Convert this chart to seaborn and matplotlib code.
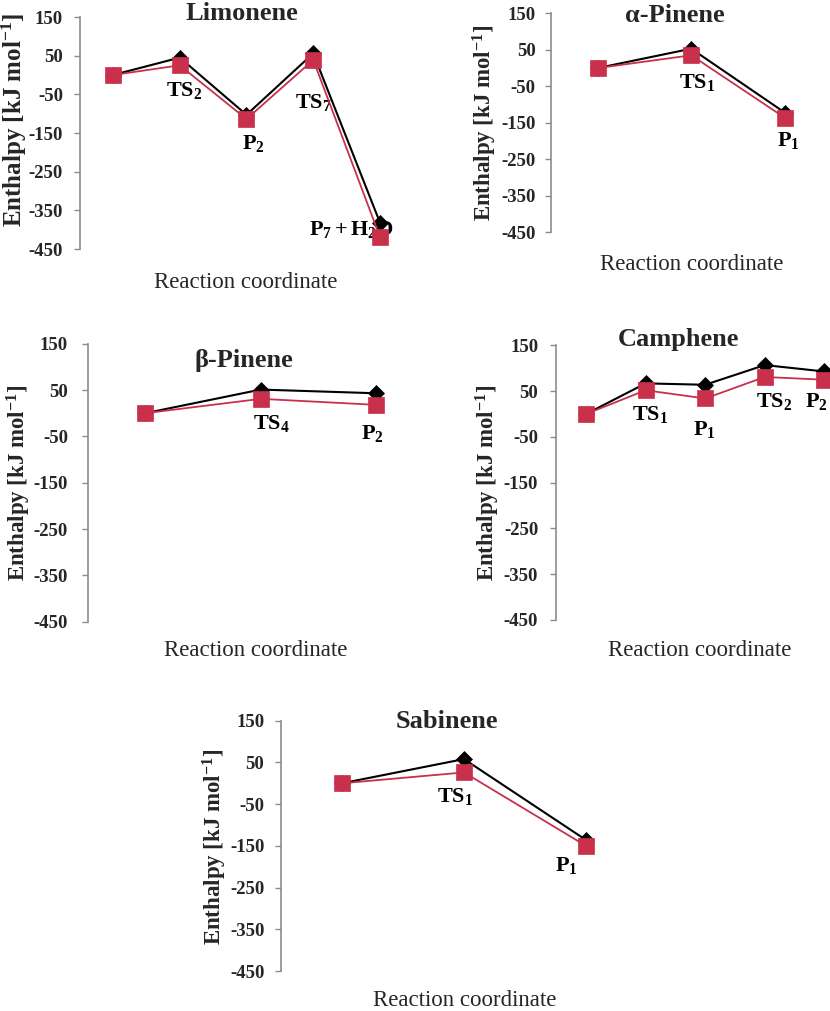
import numpy as np
import pandas as pd
import matplotlib
matplotlib.use("Agg")
import matplotlib.pyplot as plt
import seaborn as sns

# enthalpy profiles (kJ/mol), black = diamonds, red = squares
limonene_steps = ["R", "TS2", "P2", "TS7", "P7 + H2O"]
limonene_black = [0, 45, -103, 56, -382]
limonene_red = [0, 25, -114, 39, -419]

apinene_steps = ["R", "TS1", "P1"]
apinene_black = [0, 53, -122]
apinene_red = [0, 35, -136]

bpinene_steps = ["R", "TS4", "P2"]
bpinene_black = [0, 51, 43]
bpinene_red = [0, 31, 18]

camphene_steps = ["R", "TS1", "P1", "TS2", "P2"]
camphene_black = [0, 67, 64, 107, 93]
camphene_red = [0, 52, 34, 81, 75]

sabinene_steps = ["R", "TS1", "P1"]
sabinene_black = [0, 58, -136]
sabinene_red = [0, 26, -150]

yticks = [150, 50, -50, -150, -250, -350, -450]

sns.set_style("white")
plt.rcParams["font.family"] = ["Liberation Serif", "DejaVu Serif"]
plt.rcParams["mathtext.fontset"] = "custom"
plt.rcParams["mathtext.rm"] = "Liberation Serif"
plt.rcParams["mathtext.bf"] = "Liberation Serif:bold"
plt.rcParams["mathtext.it"] = "Liberation Serif:italic"
plt.rcParams["axes.unicode_minus"] = False

W, H = 830, 1011
RED = "#c8304b"
GREY = "#8c8c8c"
fig = plt.figure(figsize=(W / 100, H / 100), dpi=100)


def rect(left, top, right, bottom):
    return [left / W, 1 - bottom / H, (right - left) / W, (bottom - top) / H]


def ftext(x, y, s, **kw):
    fig.text(x / W, 1 - y / H, s, ha="center", va="center", **kw)


def pt_label(step):
    if step == "R":
        return ""
    if step == "P7 + H2O":
        return r"$\mathbf{P_7 + H_2O}$"
    return r"$\mathbf{%s_%s}$" % (step[:-1], step[-1])


panels = [
    dict(title="Limonene", steps=limonene_steps, black=limonene_black, red=limonene_red,
         box=(79.6, 17, 413.4, 249), pad=8, title_xy=(242, 14), xl_xy=(246, 282),
         yl_xy=(14, 120), yl_size=18,
         lab_xy=[None, (1.06, -39), (2.1, -176), (3.0, -70), (3.58, -400)]),
    dict(title="α-Pinene", steps=apinene_steps, black=apinene_black, red=apinene_red,
         box=(551, 13.3, 831.5, 232.3), pad=7, title_xy=(675, 15), xl_xy=(692, 265),
         yl_xy=(485, 123), yl_size=16.5,
         lab_xy=[None, (1.06, -39), (2.04, -198)]),
    dict(title="β-Pinene", steps=bpinene_steps, black=bpinene_black, red=bpinene_red,
         box=(87.5, 343.7, 434, 621.7), pad=10, title_xy=(244, 360), xl_xy=(256, 650),
         yl_xy=(19, 483), yl_size=16.5,
         lab_xy=[None, (1.09, -22), (1.97, -44)]),
    dict(title="Camphene", steps=camphene_steps, black=camphene_black, red=camphene_red,
         box=(556.2, 345.4, 854.2, 620), pad=9, title_xy=(678, 340), xl_xy=(700, 650),
         yl_xy=(488, 483), yl_size=16.5,
         lab_xy=[None, (1.08, -2), (1.99, -33), (3.15, 27), (3.86, 28)]),
    dict(title="Sabinene", steps=sabinene_steps, black=sabinene_black, red=sabinene_red,
         box=(281, 720.7, 647, 971), pad=8, title_xy=(447, 722), xl_xy=(465, 1000),
         yl_xy=(215, 847), yl_size=16.5,
         lab_xy=[None, (0.93, -32), (1.84, -196)]),
]

for p in panels:
    ax = fig.add_axes(rect(*p["box"]))
    ax.set_facecolor("none")
    n = len(p["steps"])
    df = pd.DataFrame({"step": np.arange(n), "black": p["black"], "red": p["red"]})

    sns.lineplot(data=df, x="step", y="black", ax=ax, color="black", linewidth=1.5,
                 marker="D", markersize=8.5, markeredgecolor="black", markeredgewidth=0.5,
                 legend=False, zorder=3)
    sns.lineplot(data=df, x="step", y="red", ax=ax, color=RED, linewidth=1.3,
                 marker="s", markersize=11, markeredgecolor=RED, markeredgewidth=0.5,
                 legend=False, zorder=4)

    for step, xy in zip(p["steps"], p["lab_xy"]):
        if xy is None:
            continue
        ax.text(xy[0], xy[1], pt_label(step), ha="center", va="center",
                fontsize=16, color="black", zorder=2, clip_on=False)

    ax.set_xlim(-0.5, n - 0.5)
    ax.set_ylim(-450, 150)
    ax.set_xticks([])
    ax.set_yticks(yticks)
    ax.set_yticklabels([str(v) for v in yticks], fontweight="bold")
    ax.set_xlabel("")
    ax.set_ylabel("")
    for s in ["top", "right", "bottom"]:
        ax.spines[s].set_visible(False)
    ax.spines["left"].set_color(GREY)
    ax.spines["left"].set_linewidth(1.2)
    ax.tick_params(axis="y", direction="out", length=4, width=1.0, color=GREY,
                   pad=p["pad"], labelsize=13.5, left=True)

    ftext(*p["title_xy"], p["title"], fontsize=19, fontweight="bold")
    ftext(*p["xl_xy"], "Reaction coordinate", fontsize=16.5)
    ftext(*p["yl_xy"], r"Enthalpy [kJ mol$^{\mathbf{-1}}$]", fontsize=p["yl_size"],
          fontweight="bold", rotation=90)

fig.savefig("out.png", dpi=100)
